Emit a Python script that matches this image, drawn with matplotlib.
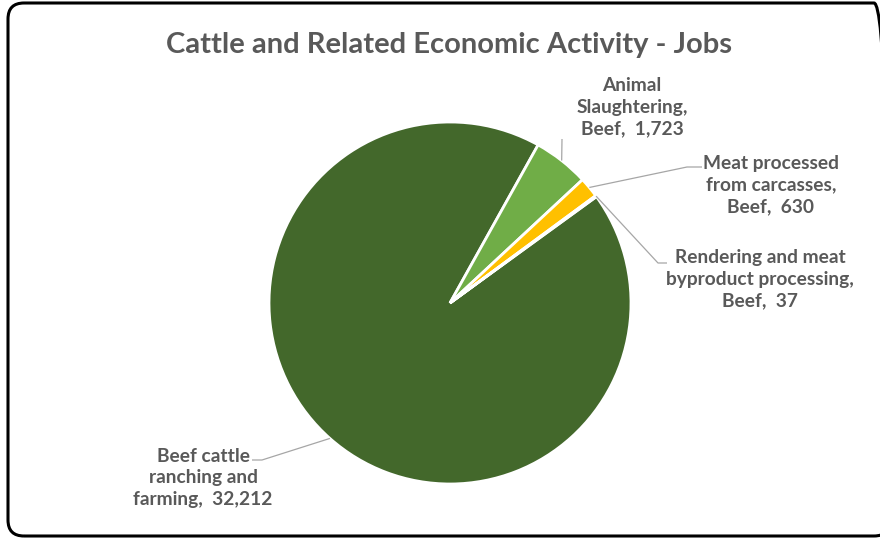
import numpy as np
import matplotlib.pyplot as plt
from matplotlib.patches import FancyBboxPatch

title = "Cattle and Related Economic Activity - Jobs"
categories = ["Beef cattle\nranching and\nfarming", "Animal\nSlaughtering,\nBeef",
              "Meat processed\nfrom carcasses,\nBeef", "Rendering and meat\nbyproduct processing,\nBeef"]
jobs = [32212, 1723, 630, 37]
colors = ["#43682B", "#70AD47", "#FFC000", "#4472C4"]

W, H = 880, 540
cx, cy, r = 450, H - 303, 181
text_color = "#595959"
plt.rcParams["font.family"] = ["Lato", "DejaVu Sans"]

fig = plt.figure(figsize=(W / 100, H / 100), dpi=100)
ax = fig.add_axes([0, 0, 1, 1])

wedges, _ = ax.pie(jobs, colors=colors, startangle=36, counterclock=False,
                   center=(cx, cy), radius=r, frame=True,
                   wedgeprops=dict(edgecolor="white", linewidth=2.0))
ax.set_xlim(0, W)
ax.set_ylim(0, H)
ax.axis("off")

# label text anchor (centre of text block), elbow of leader, end of leader
label_pos = [(203, 478), (632, 107), (771, 185), (760, 279)]
elbows = [(262, 460), None, (687, 167), (658, 263)]
ends = [(252, 460), (562, 139), (702, 167), (667, 263)]

for w, cat, val, (tx, ty), elb, end in zip(wedges, categories, jobs, label_pos, elbows, ends):
    mid = np.deg2rad((w.theta1 + w.theta2) / 2)
    x0, y0 = cx + r * np.cos(mid), cy + r * np.sin(mid)
    pts = [(x0, y0)]
    if elb is not None:
        pts.append((elb[0], H - elb[1]))
    pts.append((end[0], H - end[1]))
    xs, ys = zip(*pts)
    ax.plot(xs, ys, color="#A6A6A6", lw=0.9, solid_capstyle="butt")
    ax.text(tx, H - ty, f"{cat},  {val:,}", ha="center", va="center",
            fontsize=13.8, fontweight="bold", color=text_color, linespacing=1.35)

ax.text(449, H - 45, title, ha="center", va="center", fontsize=21,
        fontweight="bold", color=text_color)

border = FancyBboxPatch((8, 4), 882, 533, boxstyle="round,pad=0,rounding_size=16",
                        fc="none", ec="black", lw=2.2, clip_on=False)
ax.add_patch(border)

fig.savefig("out.png", dpi=100)
